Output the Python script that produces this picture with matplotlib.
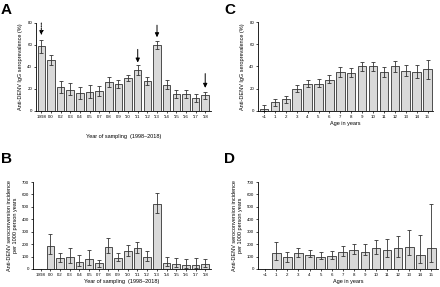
import matplotlib.pyplot as plt
import numpy as np

plt.rcParams["font.family"] = ["Liberation Sans", "DejaVu Sans"]

# ---- data ---------------------------------------------------------------
years = ["1998", "'00", "'02", "'03", "'04", "'05", "'07", "'08", "'09",
         "'10", "'11", "'12", "'13", "'14", "'15", "'16", "'17", "'18"]
ages = ["<1", "1", "2", "3", "4", "5", "6", "7", "8", "9", "10",
        "11", "12", "13", "14", "15"]

# A: seroprevalence by year (%)
prev_year = [59, 46, 21.5, 19.5, 16, 17, 18.5, 26.5, 24.5, 30, 37, 27, 60, 24, 15.5, 15.5, 11.5, 14.5]
prev_year_hi = [65, 50.5, 27, 25, 21.5, 23.5, 23, 31, 28, 33, 41.5, 30.5, 64, 28, 19, 19.5, 15.5, 17.5]
prev_year_lo = [53, 42, 16, 14.5, 11, 11.5, 14, 22, 21, 27, 33, 24, 56, 20, 12, 12, 8, 11]

# B: seroconversion incidence by year (per 1000 person years); 1998 has none
inc_year = [np.nan, 185, 85, 100, 60, 80, 45, 180, 90, 145, 170, 95, 520, 50, 40, 35, 35, 40]
inc_year_hi = [np.nan, 280, 130, 165, 110, 155, 75, 250, 125, 195, 220, 145, 610, 100, 90, 80, 85, 80]
inc_year_lo = [np.nan, 120, 55, 50, 25, 30, 20, 130, 65, 105, 130, 65, 450, 25, 15, 10, 10, 15]

# C: seroprevalence by age (%)
prev_age = [1.8, 7.7, 10.4, 19.6, 24, 24.6, 28, 35.3, 34.4, 40, 40.3, 35, 40, 36, 35.5, 37.6]
prev_age_hi = [5, 11, 13.6, 23, 27.5, 28.4, 32, 39.4, 38.5, 44, 44, 39.4, 45, 41.5, 41.5, 46]
prev_age_lo = [0, 4.5, 7.4, 17, 21.6, 21.6, 25, 31, 30.5, 36, 36.4, 30.8, 35.5, 31.4, 30, 28.7]

# D: seroconversion incidence by age; <1 has none
inc_age = [np.nan, 130, 95, 130, 115, 100, 105, 140, 155, 140, 165, 155, 170, 180, 110, 165]
inc_age_hi = [np.nan, 215, 135, 170, 155, 135, 145, 185, 205, 200, 230, 240, 265, 310, 270, 525]
inc_age_lo = [np.nan, 70, 60, 100, 95, 80, 80, 105, 120, 110, 120, 100, 100, 110, 45, 55]

# arrows on panel A: (year index, start, end, dashed)
arrows = [(0, 80, 69, True), (10, 56, 44, False), (12, 78, 67, False), (17, 34, 21, False)]

BAR = "#d9d9d9"
EDGE = "#333333"
FS = 3.2
LFS = 4.0

fig = plt.figure(figsize=(4.4, 2.87), dpi=100)
ax_a = fig.add_axes([36 / 440, 1 - 111 / 287, 175 / 440, 88 / 287])
ax_b = fig.add_axes([33 / 440, 1 - 269 / 287, 178 / 440, 87 / 287])
ax_c = fig.add_axes([258 / 440, 1 - 111 / 287, 175 / 440, 89 / 287])
ax_d = fig.add_axes([258 / 440, 1 - 269 / 287, 180 / 440, 87 / 287])


def bars(ax, labels, vals, hi, lo, ymax, step, xlim):
    x = np.arange(len(labels))
    v = np.array(vals, dtype=float)
    err = np.array([v - np.array(lo, dtype=float), np.array(hi, dtype=float) - v])
    ax.bar(x, np.nan_to_num(v), width=0.78, color=BAR, edgecolor=EDGE, linewidth=0.6)
    ax.errorbar(x, v, yerr=err, fmt="none", ecolor=EDGE, elinewidth=0.6,
                capsize=1.3, capthick=0.6)
    ax.set_xticks(x)
    ax.set_xticklabels(labels)
    ax.set_xlim(*xlim)
    ax.set_ylim(0, ymax)
    ax.set_yticks(np.arange(0, ymax + 1, step))
    for s in ("top", "right"):
        ax.spines[s].set_visible(False)
    for s in ("left", "bottom"):
        ax.spines[s].set_linewidth(0.6)
    ax.tick_params(labelsize=FS, length=1.5, width=0.5, pad=1.2)


bars(ax_a, years, prev_year, prev_year_hi, prev_year_lo, 80, 20, (-0.55, 17.6))
bars(ax_b, years, inc_year, inc_year_hi, inc_year_lo, 700, 100, (-0.8, 17.6))
bars(ax_c, ages, prev_age, prev_age_hi, prev_age_lo, 80, 20, (-0.55, 15.5))
bars(ax_d, ages, inc_age, inc_age_hi, inc_age_lo, 700, 100, (-0.65, 15.6))

for i, y0, y1, dashed in arrows:
    ax_a.annotate("", xy=(i, y1), xytext=(i, y0), annotation_clip=False,
                  arrowprops=dict(arrowstyle="-|>,head_length=0.25,head_width=0.12",
                                  color="black", lw=0.7,
                                  linestyle=(0, (1.5, 1.2)) if dashed else "-",
                                  shrinkA=0, shrinkB=0))

ax_a.set_xlabel("Year of sampling  (1998\u20132018)", fontsize=LFS, labelpad=11)
ax_b.set_xlabel("Year of sampling  (1998\u20132018)", fontsize=LFS, labelpad=1.5)
ax_c.set_xlabel("Age in years", fontsize=LFS, labelpad=1.5)
ax_d.set_xlabel("Age in years", fontsize=LFS, labelpad=1.5)
ax_a.set_ylabel("Anti-DENV IgG seroprevalence (%)", fontsize=LFS, labelpad=3)
ax_c.set_ylabel("Anti-DENV IgG seroprevalence (%)", fontsize=LFS, labelpad=3)
inc_label = "Anti-DENV seroconversion incidence\nper 1000 person years"
ax_b.set_ylabel(inc_label, fontsize=LFS, labelpad=3, linespacing=1.1)
ax_d.set_ylabel(inc_label, fontsize=LFS, labelpad=3, linespacing=1.1)

for lab, x, y in [("A", 1, 3), ("B", 1, 152), ("C", 224, 3), ("D", 224, 152)]:
    fig.text(x / 440, 1 - y / 287, lab, fontsize=11, fontweight="bold",
             va="top", ha="left")

fig.savefig("out.png", dpi=100)
